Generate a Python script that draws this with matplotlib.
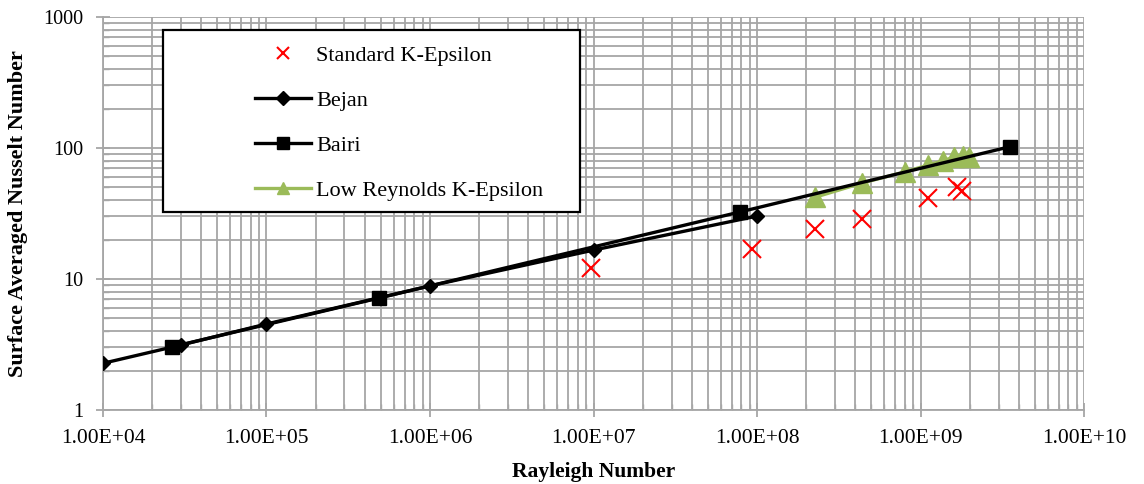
import matplotlib
matplotlib.use("Agg")
import matplotlib.pyplot as plt
from matplotlib.patches import Rectangle
from matplotlib.ticker import FuncFormatter, LogLocator

plt.rcParams['font.family'] = ['Liberation Serif', 'DejaVu Serif']

# Standard K-Epsilon (CFD)
std_ra = [9.7e6, 9.3e7, 2.26e8, 4.4e8, 1.11e9, 1.67e9, 1.80e9]
std_nu = [12.1, 16.9, 24.1, 28.7, 41.5, 50.4, 47.0]

# Bejan correlation
bejan_ra = [1e4, 3e4, 1e5, 1e6, 1e7, 1e8]
bejan_nu = [2.27, 3.13, 4.53, 8.85, 16.6, 30.2]

# Bairi correlation
bairi_ra = [2.64e4, 4.9e5, 7.9e7, 3.5e9]
bairi_nu = [3.03, 7.16, 32.5, 102]

# Low Reynolds K-Epsilon (CFD)
lowre_ra = [2.26e8, 4.4e8, 8.0e8, 1.11e9, 1.37e9, 1.61e9, 1.81e9, 1.98e9]
lowre_nu = [42, 54, 65.6, 74, 79.7, 85.5, 87, 86]

fig = plt.figure(figsize=(11.44, 4.84), dpi=100)
ax = fig.add_axes([0.090, 0.153, 0.8576, 0.812])

grid_col = '#a6a6a6'
ax.set_xscale('log')
ax.set_yscale('log')
ax.set_xlim(1e4, 1e10)
ax.set_ylim(1, 1000)

ax.xaxis.set_minor_locator(LogLocator(base=10, subs=range(2, 10), numticks=20))
ax.yaxis.set_minor_locator(LogLocator(base=10, subs=range(2, 10), numticks=20))
ax.grid(True, which='both', color=grid_col, linewidth=1.3, zorder=0)
ax.set_axisbelow(True)

for s in ['top', 'right']:
    ax.spines[s].set_visible(False)
for s in ['left', 'bottom']:
    ax.spines[s].set_color(grid_col)
    ax.spines[s].set_linewidth(1.3)

ax.tick_params(which='major', direction='inout', length=10, width=1.3, color=grid_col,
               labelsize=14.5)
ax.tick_params(axis='y', which='major', pad=9)
ax.tick_params(axis='x', which='major', labelsize=15.5, pad=9)
ax.tick_params(which='minor', direction='in', length=4, width=1.0, color=grid_col,
               labelleft=False, labelbottom=False)

ax.xaxis.set_major_formatter(FuncFormatter(lambda v, p: f"{v:.2E}"))
ax.yaxis.set_major_formatter(FuncFormatter(lambda v, p: f"{v:g}"))

ax.plot(std_ra, std_nu, linestyle='none', marker='x', color='#ff0000',
        markersize=13, markeredgewidth=1.5, label='Standard K-Epsilon', zorder=5)
ax.plot(bejan_ra, bejan_nu, color='black', linewidth=2.4, marker='D',
        markersize=7, label='Bejan', zorder=4)
ax.plot(bairi_ra, bairi_nu, color='black', linewidth=2.4, marker='s',
        markersize=10, label='Bairi', zorder=4)
ax.plot(lowre_ra, lowre_nu, color='#9bbb59', linewidth=2.4, marker='^',
        markersize=14, label='Low Reynolds K-Epsilon', zorder=3)

ax.set_xlabel('Rayleigh Number', fontsize=15.5, fontweight='bold', labelpad=10)
ax.set_ylabel('Surface Averaged Nusselt Number', fontsize=16, fontweight='bold', labelpad=11)

# legend box
box = Rectangle((0.0612, 0.504), 0.425, 0.463, transform=ax.transAxes,
                facecolor='white', edgecolor='black', linewidth=1.6, zorder=6)
ax.add_patch(box)
leg = ax.legend(loc='upper left', bbox_to_anchor=(0.155, 0.927), frameon=False,
                fontsize=16, handlelength=2.5, handletextpad=0.25,
                labelspacing=1.1, borderpad=0, borderaxespad=0)
leg.set_zorder(7)
for h, ms in zip(leg.legend_handles, [8, 7, 8, 9]):
    h.set_markersize(ms)

fig.savefig('out.png', dpi=100)
